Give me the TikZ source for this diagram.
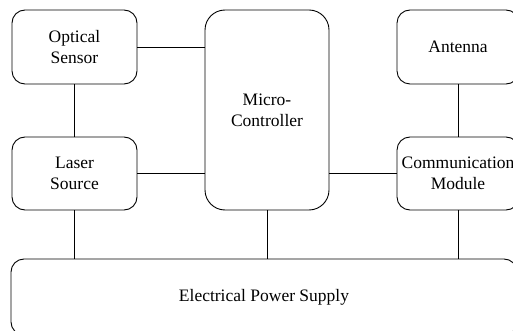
\documentclass[tikz,border=0pt]{standalone}
\usepackage{fontspec}
\setmainfont{Liberation Serif}
\newfontfamily\boxfont{Liberation Serif}

\begin{document}
\begin{tikzpicture}[
  x=1pt,y=-1pt,
  box/.style={draw,rounded corners=13pt,align=center,inner sep=0pt,line width=0.9pt,
    font=\boxfont\fontsize{17.5}{21}\selectfont,minimum width=125pt,minimum height=74pt},
  link/.style={line width=0.9pt}
]
\useasboundingbox (0,0) rectangle (513,331);
\clip (0,0) rectangle (513,331);
\node[box] (optical) at (74.5,47) {Optical\\Sensor};
\node[box,minimum height=73pt] (laser) at (74.5,173.5) {Laser\\Source};
\node[box,rounded corners=20pt,minimum width=124pt,minimum height=200pt] (micro) at (267,110) {Micro-\\Controller};
\node[box,minimum width=122pt] (antenna) at (458,47) {Antenna};
\node[box,minimum width=122pt,minimum height=73pt] (comm) at (458,173.5) {Communication\\Module};
\node[box,minimum width=506pt,minimum height=76pt] (power) at (264,297) {Electrical Power Supply};
\draw[link] (optical.east) -- (optical.east -| micro.west);
\draw[link] (laser.east) -- (laser.east -| micro.west);
\draw[link] (comm.west) -- (comm.west -| micro.east);
\draw[link] (optical) -- (laser);
\draw[link] (antenna) -- (comm);
\draw[link] (laser.south) -- (laser.south |- power.north);
\draw[link] (micro.south) -- (micro.south |- power.north);
\draw[link] (comm.south) -- (comm.south |- power.north);
\end{tikzpicture}
\end{document}
